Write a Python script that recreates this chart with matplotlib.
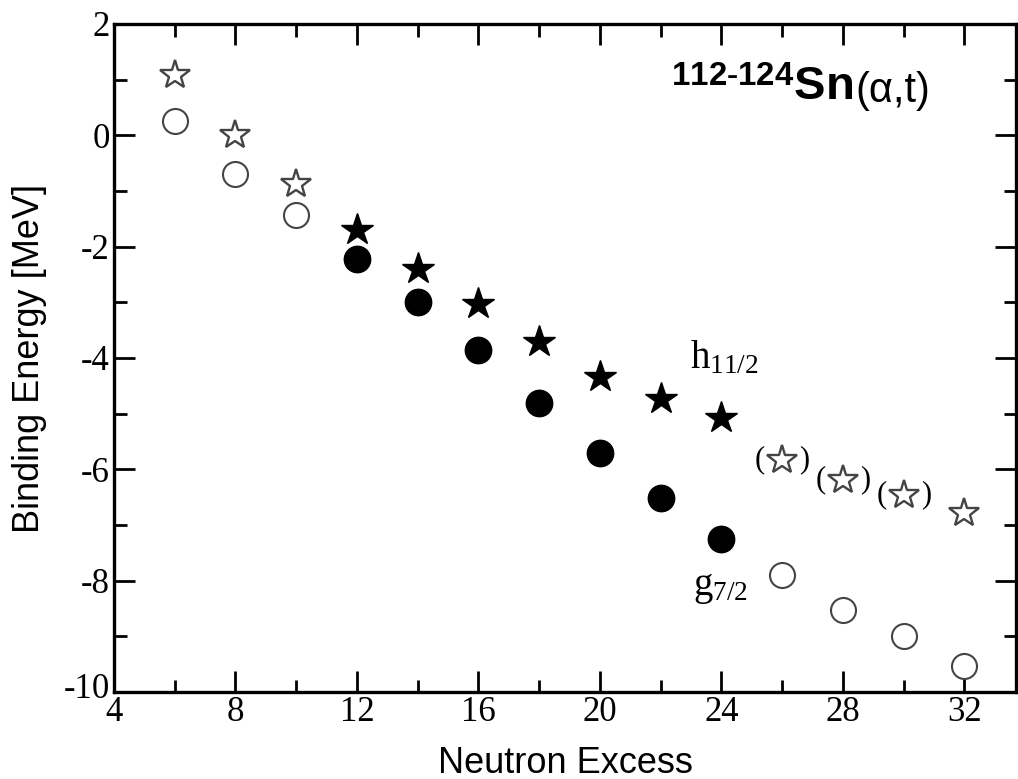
import matplotlib
matplotlib.use("Agg")
import matplotlib.pyplot as plt
import matplotlib.transforms as mtransforms
from matplotlib.ticker import MultipleLocator

# values
x_open_star = [6, 8, 10]
y_open_star = [1.08, 0.0, -0.88]
x_open_circ = [6, 8, 10]
y_open_circ = [0.25, -0.70, -1.43]

x_fill_star = [12, 14, 16, 18, 20, 22, 24]
y_fill_star = [-1.70, -2.40, -3.03, -3.71, -4.34, -4.74, -5.08]
x_fill_circ = [12, 14, 16, 18, 20, 22, 24]
y_fill_circ = [-2.22, -3.00, -3.86, -4.81, -5.70, -6.51, -7.26]

x_paren_star = [26, 28, 30]
y_paren_star = [-5.83, -6.19, -6.46]
x_last_star = [32]
y_last_star = [-6.78]
x_open_circ2 = [26, 28, 30, 32]
y_open_circ2 = [-7.90, -8.52, -9.00, -9.54]

xticks = [4, 8, 12, 16, 20, 24, 28, 32]
yticks = [2, 0, -2, -4, -6, -8, -10]

plt.rcParams["axes.unicode_minus"] = False
plt.rcParams["mathtext.fontset"] = "custom"
plt.rcParams["mathtext.rm"] = "Liberation Serif"
plt.rcParams["mathtext.it"] = "Liberation Serif:italic"
plt.rcParams["mathtext.bf"] = "Liberation Sans:bold"

fig = plt.figure(figsize=(10.18, 7.79), dpi=100)
ax = fig.add_axes([114 / 1018, 1 - 692 / 779, (1016 - 114) / 1018, (692 - 24) / 779])

ax.plot(x_open_star, y_open_star, "*", ms=22, mfc="white", mec="#444444", mew=1.7, ls="")
ax.plot(x_paren_star + x_last_star, y_paren_star + y_last_star, "*", ms=22, mfc="white",
        mec="#444444", mew=1.7, ls="")
ax.plot(x_open_circ + x_open_circ2, y_open_circ + y_open_circ2, "o", ms=18, mfc="white",
        mec="#444444", mew=1.5, ls="")
ax.plot(x_fill_star, y_fill_star, "*", ms=24, color="black", ls="")
ax.plot(x_fill_circ, y_fill_circ, "o", ms=19, color="black", ls="")

for xi, yi in zip(x_paren_star, y_paren_star):
    ax.annotate("(", (xi, yi), xytext=(-16, 0), textcoords="offset points", ha="center",
                va="center", fontsize=22, family="Liberation Serif")
    ax.annotate(")", (xi, yi), xytext=(16, 0), textcoords="offset points", ha="center",
                va="center", fontsize=22, family="Liberation Serif")

ax.text(22.95, -4.18, r"h$_{11/2}$", fontsize=28, family="Liberation Serif", ha="left",
        va="baseline")
ax.text(23.05, -8.25, r"g$_{7/2}$", fontsize=28, family="Liberation Serif", ha="left",
        va="baseline")

t1 = ax.text(22.35, 0.62, r"$^{\mathbf{112\text{-}124}}\mathbf{Sn}$", fontsize=34, ha="left",
             va="baseline")
ax.annotate("(α,t)", xy=(1, 0), xycoords=t1, xytext=(1, 0),
            textcoords="offset points", fontsize=30, family="Liberation Sans",
            ha="left", va="bottom")

ax.set_xlim(4, 33.7)
ax.set_ylim(-10, 2)
ax.set_xticks(xticks)
ax.set_yticks(yticks)
ax.xaxis.set_minor_locator(MultipleLocator(2))
ax.yaxis.set_minor_locator(MultipleLocator(1))
ax.tick_params(which="both", direction="in", top=True, right=True, width=2)
ax.tick_params(which="major", length=15)
ax.tick_params(which="minor", length=9)
ax.tick_params(axis="x", pad=3)
ax.tick_params(axis="y", pad=3)
for lab in ax.get_xticklabels() + ax.get_yticklabels():
    lab.set_family("Liberation Serif")
    lab.set_fontsize(25)
# the bottom y label sits a little higher, as in the reference
ylabs = ax.get_yticklabels()
ylabs[-1].set_transform(ylabs[-1].get_transform()
                        + mtransforms.ScaledTranslation(0, 5 / 72, fig.dpi_scale_trans))
for s in ax.spines.values():
    s.set_linewidth(2.4)

ax.set_xlabel("Neutron Excess", fontsize=26, family="Liberation Sans", labelpad=12)
ax.set_ylabel("Binding Energy [MeV]", fontsize=26, family="Liberation Sans", labelpad=12)

fig.savefig("out.png", dpi=100)
